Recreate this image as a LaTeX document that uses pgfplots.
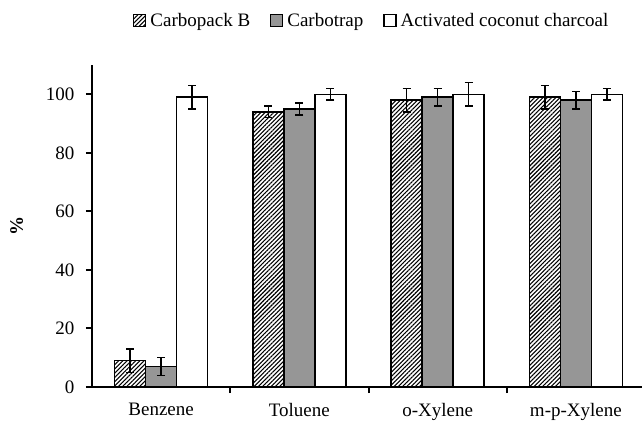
\documentclass[border=0pt]{standalone}
\usepackage{fontspec}
\setmainfont{Liberation Serif}
\usepackage{pgfplots}
\pgfplotsset{compat=1.18}
\usetikzlibrary{patterns.meta}
\definecolor{cgray}{RGB}{150,150,150}
\begin{document}
\fontsize{19}{22}\selectfont
\begin{tikzpicture}
\useasboundingbox (0,0) rectangle (642pt,420pt);
\begin{axis}[
  at={(92pt,33pt)}, anchor=south west,
  scale only axis, width=553pt, height=322pt,
  ybar=0pt, bar width=31pt,
  xmin=-0.5, xmax=3.5, ymin=0, ymax=110,
  axis x line*=bottom, axis y line*=left,
  axis line style={line width=2pt, black},
  ytick={0,20,...,100},
  xtick={0,1,2,3}, xticklabels={Benzene,Toluene,o-Xylene,m-p-Xylene},
  major x tick style={draw=none},
  minor xtick={0.5,1.5,2.5},
  tick align=outside, major tick length=6pt, minor tick length=6pt,
  every tick/.style={line width=2pt, black},
  /pgf/number format/assume math mode=true,
  ticklabel style={font=\fontsize{19}{22}\selectfont},
  yticklabel style={xshift=-5pt},
  xticklabel style={yshift=-4pt},
  ylabel={\textbf{\%}},
  ylabel style={font=\fontsize{19}{22}\selectfont, yshift=10pt},
  legend style={at={(0.506,1.137)}, anchor=center, draw=none, legend columns=3,
    font=\fontsize{19}{22}\selectfont,
    /tikz/every even column/.append style={column sep=18pt},
    /tikz/every odd column/.append style={column sep=2pt}},
  legend image code/.code={\draw[#1, line width=1.2pt] (0pt,-6pt) rectangle (12pt,6pt);},
  error bars/y dir=both, error bars/y explicit,
  error bars/error bar style={line width=1.5pt, black},
  error bars/error mark options={rotate=90, mark size=4pt, line width=1.5pt, black},
]
\addplot[draw=black, line width=1.5pt, pattern={Lines[angle=45,distance=3pt,line width=1.1pt]}]
  coordinates {(0,9) +- (0,4) (1,94) +- (0,2) (2,98) +- (0,4) (3,99) +- (0,4)};
\addplot[draw=black, line width=1.5pt, fill=cgray]
  coordinates {(0,7) +- (0,3) (1,95) +- (0,2) (2,99) +- (0,3) (3,98) +- (0,3)};
\addplot[draw=black, line width=1.5pt, fill=white]
  coordinates {(0,99) +- (0,4) (1,100) +- (0,2) (2,100) +- (0,4) (3,100) +- (0,2)};
\legend{Carbopack B, Carbotrap, Activated coconut charcoal}
\end{axis}
\end{tikzpicture}
\end{document}
